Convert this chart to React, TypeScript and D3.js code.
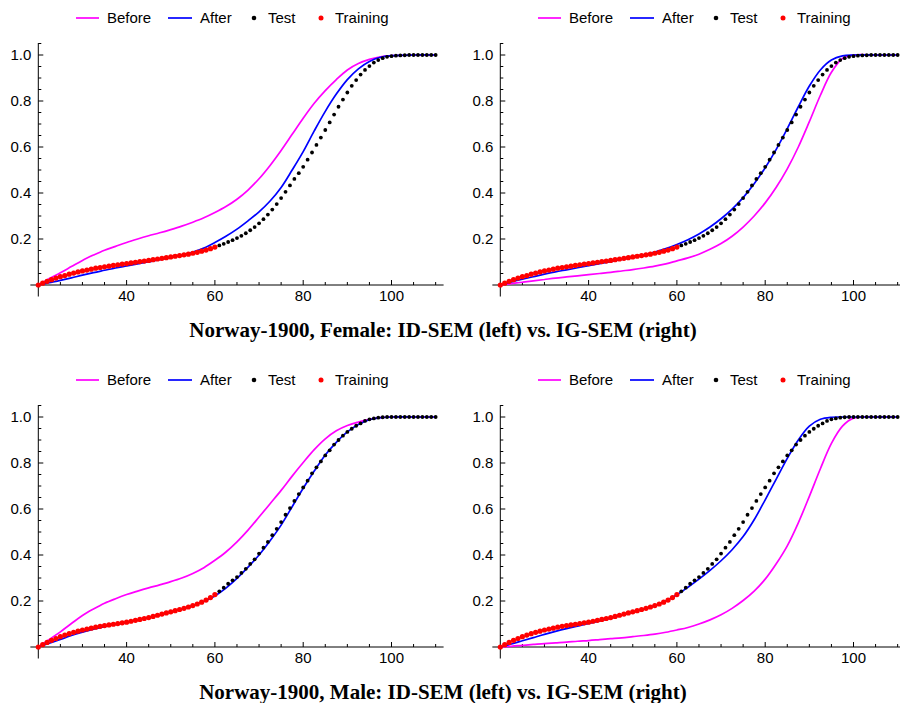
import React from 'react';
import * as d3 from 'd3';

// ---------- data ----------
const LINE_AGES = [20, 22.5, 25, 27.5, 30, 32.5, 35, 37.5, 40, 42.5, 45, 47.5, 50, 52.5, 55, 57.5, 60, 62.5, 65, 67.5, 70, 72.5, 75, 77.5, 80, 82.5, 85, 87.5, 90, 92.5, 95, 97.5, 100, 105, 110];

const TRAIN_AGES = [20, 21, 22, 23, 24, 25, 26, 27, 28, 29, 30, 31, 32, 33, 34, 35, 36, 37, 38, 39, 40, 41, 42, 43, 44, 45, 46, 47, 48, 49, 50, 51, 52, 53, 54, 55, 56, 57, 58, 59, 60];
const TEST_AGES = [61, 62, 63, 64, 65, 66, 67, 68, 69, 70, 71, 72, 73, 74, 75, 76, 77, 78, 79, 80, 81, 82, 83, 84, 85, 86, 87, 88, 89, 90, 91, 92, 93, 94, 95, 96, 97, 98, 99, 100, 101, 102, 103, 104, 105, 106, 107, 108, 109, 110];

const FEMALE_TRAIN = [0.000, 0.008, 0.016, 0.023, 0.030, 0.036, 0.041, 0.047, 0.052, 0.057, 0.061, 0.065, 0.069, 0.073, 0.076, 0.079, 0.082, 0.085, 0.088, 0.091, 0.093, 0.096, 0.099, 0.102, 0.104, 0.107, 0.110, 0.113, 0.116, 0.119, 0.122, 0.125, 0.128, 0.131, 0.134, 0.138, 0.142, 0.147, 0.152, 0.158, 0.165];
const FEMALE_TEST = [0.172, 0.179, 0.187, 0.195, 0.204, 0.214, 0.225, 0.238, 0.252, 0.268, 0.286, 0.306, 0.328, 0.352, 0.378, 0.405, 0.433, 0.461, 0.486, 0.514, 0.545, 0.576, 0.609, 0.641, 0.674, 0.707, 0.741, 0.775, 0.806, 0.837, 0.866, 0.891, 0.915, 0.935, 0.952, 0.967, 0.978, 0.986, 0.992, 0.995, 0.997, 0.998, 0.999, 1, 1, 1, 1, 1, 1, 1];

const MALE_TRAIN = [0.000, 0.010, 0.020, 0.029, 0.037, 0.045, 0.052, 0.058, 0.064, 0.069, 0.074, 0.078, 0.082, 0.086, 0.090, 0.093, 0.096, 0.099, 0.102, 0.105, 0.108, 0.112, 0.116, 0.120, 0.124, 0.128, 0.133, 0.138, 0.143, 0.148, 0.153, 0.158, 0.163, 0.168, 0.174, 0.180, 0.187, 0.195, 0.204, 0.215, 0.228];
const MALE_TEST = [0.242, 0.258, 0.275, 0.290, 0.304, 0.322, 0.340, 0.361, 0.381, 0.406, 0.432, 0.457, 0.486, 0.514, 0.543, 0.575, 0.604, 0.635, 0.665, 0.694, 0.723, 0.755, 0.781, 0.807, 0.833, 0.855, 0.880, 0.900, 0.919, 0.935, 0.949, 0.962, 0.972, 0.983, 0.990, 0.994, 0.997, 0.999, 1, 1, 1, 1, 1, 1, 1, 1, 1, 1, 1, 1];

const F_ID_BEFORE = [0, 0.028, 0.053, 0.08, 0.107, 0.13, 0.151, 0.168, 0.185, 0.2, 0.214, 0.227, 0.241, 0.256, 0.273, 0.292, 0.315, 0.341, 0.373, 0.413, 0.462, 0.52, 0.585, 0.655, 0.725, 0.79, 0.845, 0.893, 0.935, 0.963, 0.981, 0.992, 0.997, 1, 1];
const F_ID_AFTER = [0, 0.01, 0.02, 0.031, 0.043, 0.054, 0.064, 0.074, 0.083, 0.092, 0.101, 0.11, 0.12, 0.13, 0.143, 0.161, 0.185, 0.212, 0.243, 0.279, 0.318, 0.365, 0.424, 0.5, 0.58, 0.67, 0.755, 0.83, 0.893, 0.94, 0.972, 0.99, 0.997, 1, 1];
const F_IG_BEFORE = [0, 0.006, 0.012, 0.018, 0.024, 0.03, 0.035, 0.04, 0.045, 0.05, 0.055, 0.061, 0.067, 0.074, 0.082, 0.092, 0.105, 0.118, 0.134, 0.155, 0.18, 0.212, 0.252, 0.3, 0.357, 0.425, 0.505, 0.6, 0.71, 0.825, 0.925, 0.985, 1, 1, 1];
const F_IG_AFTER = [0, 0.013, 0.025, 0.036, 0.047, 0.057, 0.066, 0.075, 0.084, 0.093, 0.102, 0.111, 0.121, 0.131, 0.143, 0.158, 0.176, 0.197, 0.222, 0.252, 0.288, 0.33, 0.38, 0.44, 0.51, 0.59, 0.68, 0.775, 0.865, 0.935, 0.978, 0.996, 1, 1, 1];
const M_ID_BEFORE = [0, 0.033, 0.066, 0.102, 0.137, 0.165, 0.19, 0.21, 0.228, 0.243, 0.257, 0.27, 0.284, 0.3, 0.32, 0.345, 0.377, 0.413, 0.457, 0.508, 0.565, 0.623, 0.681, 0.743, 0.802, 0.858, 0.905, 0.94, 0.963, 0.978, 0.99, 0.997, 1, 1, 1];
const M_ID_AFTER = [0, 0.016, 0.033, 0.05, 0.064, 0.077, 0.088, 0.098, 0.107, 0.117, 0.128, 0.14, 0.152, 0.165, 0.18, 0.198, 0.222, 0.256, 0.298, 0.347, 0.4, 0.462, 0.53, 0.61, 0.69, 0.765, 0.835, 0.89, 0.935, 0.967, 0.988, 0.997, 1, 1, 1];
const M_IG_BEFORE = [0, 0.003, 0.007, 0.011, 0.015, 0.018, 0.021, 0.025, 0.028, 0.032, 0.036, 0.04, 0.045, 0.05, 0.056, 0.064, 0.074, 0.085, 0.1, 0.118, 0.14, 0.168, 0.202, 0.243, 0.295, 0.362, 0.44, 0.54, 0.655, 0.775, 0.885, 0.96, 0.995, 1, 1];
const M_IG_AFTER = [0, 0.013, 0.027, 0.041, 0.055, 0.068, 0.08, 0.091, 0.102, 0.113, 0.125, 0.138, 0.151, 0.165, 0.18, 0.2, 0.227, 0.26, 0.295, 0.333, 0.375, 0.423, 0.48, 0.553, 0.64, 0.73, 0.82, 0.9, 0.96, 0.99, 0.999, 1, 1, 1, 1];

const X_MAJOR = [40, 60, 80, 100];
const X_MINOR = [25, 30, 35, 45, 50, 55, 65, 70, 75, 85, 90, 95, 105, 110];
const Y_MAJOR = [0.2, 0.4, 0.6, 0.8, 1.0];
const Y_MINOR = [0.05, 0.1, 0.15, 0.25, 0.3, 0.35, 0.45, 0.5, 0.55, 0.65, 0.7, 0.75, 0.85, 0.9, 0.95, 1.05];
const LEGEND = ['Before', 'After', 'Test', 'Training'];
const TITLES = [
  'Norway-1900, Female: ID-SEM (left) vs. IG-SEM (right)',
  'Norway-1900, Male: ID-SEM (left) vs. IG-SEM (right)',
];

const C_BEFORE = '#ff00ff';
const C_AFTER = '#0000ff';
const C_TEST = '#000000';
const C_TRAIN = '#ff0000';
const SANS = '"Liberation Sans", Arial, sans-serif';
const SERIF = '"Liberation Serif", "Times New Roman", serif';

type PanelProps = {
  ox: number; oy: number;
  before: number[]; after: number[]; train: number[]; test: number[];
};

function Panel({ ox, oy, before, after, train, test }: PanelProps) {
  const x = d3.scaleLinear().domain([20, 110]).range([ox, ox + 90 * 4.415]);
  const y = d3.scaleLinear().domain([0, 1]).range([oy, oy - 230]);
  const line = d3.line<[number, number]>()
    .x(d => x(d[0])).y(d => y(d[1])).curve(d3.curveCatmullRom.alpha(0.5));
  const bPts = LINE_AGES.map((a, i) => [a, before[i]] as [number, number]);
  const aPts = LINE_AGES.map((a, i) => [a, after[i]] as [number, number]);
  const x0 = x(20);
  const y0 = y(0);
  const ly = oy - 267;
  const lx = ox;
  return (
    <g>
      {/* axes */}
      <line x1={x(18.2)} x2={x(111.8)} y1={y0} y2={y0} stroke="#000" strokeWidth={1} />
      <line x1={x0} x2={x0} y1={y(-0.05)} y2={y(1.052)} stroke="#000" strokeWidth={1} />
      {X_MAJOR.map(v => (
        <g key={'xm' + v}>
          <line x1={x(v)} x2={x(v)} y1={y0} y2={y0 - 5} stroke="#000" />
          <text x={x(v)} y={y0 + 16} textAnchor="middle" fontFamily={SANS} fontSize={15}>{v}</text>
        </g>
      ))}
      {X_MINOR.map(v => (
        <line key={'xn' + v} x1={x(v)} x2={x(v)} y1={y0} y2={y0 - 3} stroke="#000" />
      ))}
      {Y_MAJOR.map(v => (
        <g key={'ym' + v}>
          <line x1={x0} x2={x0 + 5} y1={y(v)} y2={y(v)} stroke="#000" />
          <text x={x0 - 7} y={y(v) + 5} textAnchor="end" fontFamily={SANS} fontSize={15}>{v.toFixed(1)}</text>
        </g>
      ))}
      {Y_MINOR.map(v => (
        <line key={'yn' + v} x1={x0} x2={x0 + 3} y1={y(v)} y2={y(v)} stroke="#000" />
      ))}
      {/* curves */}
      <path d={line(bPts) || ''} fill="none" stroke={C_BEFORE} strokeWidth={1.7} />
      <path d={line(aPts) || ''} fill="none" stroke={C_AFTER} strokeWidth={1.7} />
      {TEST_AGES.map((a, i) => (
        <circle key={'te' + a} cx={x(a)} cy={y(test[i])} r={1.9} fill={C_TEST} />
      ))}
      {TRAIN_AGES.map((a, i) => (
        <circle key={'tr' + a} cx={x(a)} cy={y(train[i])} r={2.6} fill={C_TRAIN} />
      ))}
      {/* legend */}
      <g fontFamily={SANS} fontSize={15}>
        <line x1={lx + 37.7} x2={lx + 60.7} y1={ly} y2={ly} stroke={C_BEFORE} strokeWidth={1.7} />
        <text x={lx + 68.7} y={ly + 5.3}>{LEGEND[0]}</text>
        <line x1={lx + 129.7} x2={lx + 153.7} y1={ly} y2={ly} stroke={C_AFTER} strokeWidth={1.7} />
        <text x={lx + 161.7} y={ly + 5.3}>{LEGEND[1]}</text>
        <circle cx={lx + 215.7} cy={ly} r={2.3} fill={C_TEST} />
        <text x={lx + 229.7} y={ly + 5.3}>{LEGEND[2]}</text>
        <circle cx={lx + 282.7} cy={ly} r={2.5} fill={C_TRAIN} />
        <text x={lx + 296.7} y={ly + 5.3}>{LEGEND[3]}</text>
      </g>
    </g>
  );
}

export default function App() {
  return (
    <svg width={900} height={703} viewBox="0 0 900 703"
      style={{ position: 'absolute', left: 0, top: 0, background: '#fff', display: 'block' }}>
      <rect x={0} y={0} width={900} height={703} fill="#fff" />
      <Panel ox={38.3} oy={285} before={F_ID_BEFORE} after={F_ID_AFTER} train={FEMALE_TRAIN} test={FEMALE_TEST} />
      <Panel ox={500.3} oy={285} before={F_IG_BEFORE} after={F_IG_AFTER} train={FEMALE_TRAIN} test={FEMALE_TEST} />
      <Panel ox={38.3} oy={647} before={M_ID_BEFORE} after={M_ID_AFTER} train={MALE_TRAIN} test={MALE_TEST} />
      <Panel ox={500.3} oy={647} before={M_IG_BEFORE} after={M_IG_AFTER} train={MALE_TRAIN} test={MALE_TEST} />
      <text x={443} y={337} textAnchor="middle" fontFamily={SERIF} fontWeight="bold" fontSize={21}>{TITLES[0]}</text>
      <text x={443} y={699} textAnchor="middle" fontFamily={SERIF} fontWeight="bold" fontSize={21}>{TITLES[1]}</text>
    </svg>
  );
}
